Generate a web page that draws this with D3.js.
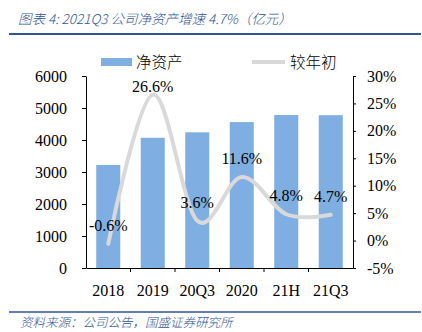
<!DOCTYPE html>
<html><head><meta charset="utf-8">
<script src="https://cdn.jsdelivr.net/npm/d3@7"></script>
<style>
body{margin:0;background:#fff;}
svg{display:block;}
</style></head>
<body>
<svg id="c" width="422" height="332"></svg>
<script>
const categories = ["2018","2019","20Q3","2020","21H","21Q3"];
const netAssets = [3220, 4070, 4240, 4560, 4780, 4775];
const growth = [-0.6, 26.6, 3.6, 11.6, 4.8, 4.7];
const leftTicks = [0,1000,2000,3000,4000,5000,6000];
const rightTicks = [-5,0,5,10,15,20,25,30];
const seriesNames = ["净资产","较年初"];
const titleText = "图表 4:  2021Q3 公司净资产增速 4.7%（亿元）";
const sourceText = "资料来源：公司公告，国盛证券研究所";

const svg = d3.select("#c");
const L = 86, R = 353, T = 76, B = 268;
const serif = "'Liberation Serif','Times New Roman',serif";
const cjk = "'Noto Sans CJK SC',sans-serif";
const blue = "#2F5597";

// title & footer
svg.append("text").attr("x",18).attr("y",24).attr("font-family",cjk).attr("font-style","italic")
  .attr("font-size",13.5).attr("font-weight",300).attr("fill",blue).text(titleText);
svg.append("line").attr("x1",9).attr("x2",421).attr("y1",34).attr("y2",34).attr("stroke",blue).attr("stroke-width",2);
svg.append("line").attr("x1",9).attr("x2",421).attr("y1",312).attr("y2",312).attr("stroke",blue).attr("stroke-width",1.5);
svg.append("text").attr("x",20).attr("y",327).attr("font-family",cjk).attr("font-style","italic")
  .attr("font-size",12.5).attr("font-weight",300).attr("fill",blue).text(sourceText);

const x = d3.scaleBand().domain(categories).range([L,R]).paddingInner(0.46).paddingOuter(0.23);
const xc = d3.scaleBand().domain(categories).range([L,R]);
const yL = d3.scaleLinear().domain([0,6000]).range([B,T]);
const yR = d3.scaleLinear().domain([-5,30]).range([B,T]);

// bars
svg.append("g").selectAll("rect").data(netAssets).join("rect")
  .attr("x",(d,i)=>x(categories[i])).attr("width",x.bandwidth())
  .attr("y",d=>yL(d)).attr("height",d=>B-yL(d)).attr("fill","#7FAEE2");

// axes
const gl = svg.append("g").attr("transform",`translate(${L},0)`)
  .call(d3.axisLeft(yL).tickValues(leftTicks).tickSize(4).tickPadding(15).tickSizeOuter(0).tickFormat(d3.format("d")));
const gr = svg.append("g").attr("transform",`translate(${R},0)`)
  .call(d3.axisRight(yR).tickValues(rightTicks).tickSize(3).tickPadding(11).tickSizeOuter(0).tickFormat(d=>d+"%"));
const gx = svg.append("g").attr("transform",`translate(0,${B})`)
  .call(d3.axisBottom(xc).tickSize(0).tickPadding(17).tickSizeOuter(0));
// category boundary ticks
svg.append("g").selectAll("line").data(categories.slice(1)).join("line")
  .attr("x1",d=>xc(d)).attr("x2",d=>xc(d)).attr("y1",B).attr("y2",B+4).attr("stroke","#000");
[gl,gr,gx].forEach(g=>{
  g.selectAll("text").attr("font-family",serif).attr("font-size",16).attr("fill","#000");
  g.selectAll("path,line").attr("stroke","#000");
});

// line
const px = i => xc(categories[i]) + xc.bandwidth()/2;
const line = d3.line().x((d,i)=>px(i)).y(d=>yR(d)).curve(d3.curveCatmullRom.alpha(0));
svg.append("path").datum(growth).attr("d",line).attr("fill","none")
  .attr("stroke","#D9D9D9").attr("stroke-width",4).attr("stroke-linecap","round");

// labels
svg.append("g").selectAll("text").data(growth).join("text")
  .attr("x",(d,i)=>px(i)).attr("y",d=>Math.max(yR(d)-13, 92))
  .attr("text-anchor","middle").attr("font-family",serif).attr("font-size",16).attr("fill","#000")
  .text(d=>d.toFixed(1)+"%");

// legend
svg.append("rect").attr("x",101).attr("y",58).attr("width",31).attr("height",8).attr("fill","#7FAEE2");
svg.append("text").attr("x",136).attr("y",67.5).attr("font-family",cjk).attr("font-size",15.5).attr("font-weight",300).text(seriesNames[0]);
svg.append("line").attr("x1",252).attr("x2",285).attr("y1",62).attr("y2",62).attr("stroke","#D9D9D9").attr("stroke-width",4);
svg.append("text").attr("x",290).attr("y",67.5).attr("font-family",cjk).attr("font-size",15.5).attr("font-weight",300).text(seriesNames[1]);
</script>
</body></html>
